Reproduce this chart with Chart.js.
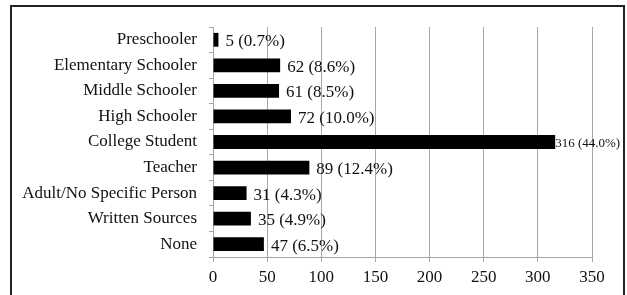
<!DOCTYPE html>
<html>
<head>
<meta charset="utf-8">
<script src="https://cdn.jsdelivr.net/npm/chart.js@4.4.1/dist/chart.umd.min.js"></script>
<style>
  html, body { margin: 0; padding: 0; background: #fff; }
  #wrap { position: relative; width: 627px; height: 295px; overflow: hidden; }
  #frame {
    position: absolute; left: 10px; top: 5px; width: 611px; height: 300px;
    border: 2px solid #222; box-sizing: content-box;
  }
  canvas { position: absolute; left: 0; top: 0; }
</style>
</head>
<body>
<div id="wrap">
  <div id="frame"></div>
  <canvas id="chart" width="627" height="295"></canvas>
</div>
<script>
const categories = [
  'Preschooler',
  'Elementary Schooler',
  'Middle Schooler',
  'High Schooler',
  'College Student',
  'Teacher',
  'Adult/No Specific Person',
  'Written Sources',
  'None'
];
const counts = [5, 62, 61, 72, 316, 89, 31, 35, 47];
const percents = ['0.7%', '8.6%', '8.5%', '10.0%', '44.0%', '12.4%', '4.3%', '4.9%', '6.5%'];
const xTicks = [0, 50, 100, 150, 200, 250, 300, 350];

const FONT = "'Liberation Serif', 'Times New Roman', serif";

// etiquetas de valor a la derecha de cada barra
const valueLabels = {
  id: 'valueLabels',
  afterDatasetsDraw(chart) {
    const ctx = chart.ctx;
    const meta = chart.getDatasetMeta(0);
    ctx.save();
    ctx.fillStyle = '#111';
    ctx.textBaseline = 'middle';
    ctx.textAlign = 'left';
    meta.data.forEach((bar, i) => {
      const text = counts[i] + ' (' + percents[i] + ')';
      const big = counts[i] > 300;
      ctx.font = (big ? '13px ' : '17px ') + FONT;
      ctx.fillText(text, bar.x + (big ? 0 : 7), bar.y + 2);
    });
    ctx.restore();
  }
};

new Chart(document.getElementById('chart'), {
  type: 'bar',
  data: {
    labels: categories,
    datasets: [{
      data: counts,
      backgroundColor: '#000',
      categoryPercentage: 1,
      barPercentage: 0.54
    }]
  },
  options: {
    indexAxis: 'y',
    responsive: false,
    animation: false,
    layout: { padding: { top: 27, right: 35, bottom: 0, left: 0 } },
    plugins: {
      legend: { display: false },
      tooltip: { enabled: false }
    },
    scales: {
      x: {
        type: 'linear',
        min: 0,
        max: 350,
        afterBuildTicks: (scale) => {
          scale.ticks = xTicks.map((v) => ({ value: v }));
        },
        afterFit: (scale) => { scale.height = 38; },
        grid: { color: '#a6a6a6', lineWidth: 1, drawTicks: true, tickLength: 5 },
        border: { display: true, color: '#a6a6a6' },
        ticks: { color: '#111', padding: 5, font: { family: FONT, size: 17 } }
      },
      y: {
        afterFit: (scale) => { scale.width = 213; },
        grid: { drawOnChartArea: false, drawTicks: true, tickLength: 4, offset: true, color: '#a6a6a6' },
        border: { display: true, color: '#a6a6a6' },
        ticks: { color: '#111', padding: 12, font: { family: FONT, size: 17 } }
      }
    }
  },
  plugins: [valueLabels]
});
</script>
</body>
</html>
